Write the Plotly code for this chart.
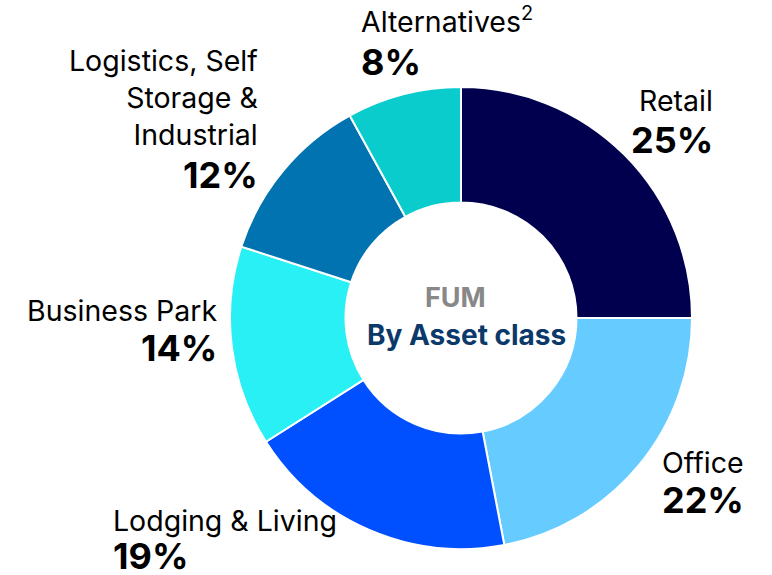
import plotly.graph_objects as go

categories = ["Retail", "Office", "Lodging & Living", "Business Park",
              "Logistics, Self Storage & Industrial", "Alternatives"]
values = [25, 22, 19, 14, 12, 8]
colors = ["#00004F", "#66CCFF", "#0050FF", "#28F0F5", "#0073B0", "#0ACCCC"]

label_texts = ["Retail", "Office", "Lodging & Living", "Business Park",
               "Logistics, Self<br>Storage &<br>Industrial", "Alternatives<sup>2</sup>"]
pct_texts = [f"{v}%" for v in values]

W, H = 772, 575
FONT = "Inter"
R = 231

fig = go.Figure(go.Pie(
    labels=categories, values=values, sort=False, direction="clockwise",
    rotation=0, hole=0.5,
    marker=dict(colors=colors, line=dict(color="white", width=2)),
    textinfo="none", hoverinfo="label+percent", showlegend=False,
    domain=dict(x=[(461 - R) / W, (461 + R) / W], y=[1 - (318 + R) / H, 1 - (318 - R) / H]),
))

# label placement (pixel coords: x, y of name block, y of pct, anchor)
layout_pos = [
    (715, 100, 140, "right"),
    (660, 462, 500, "left"),
    (111, 520, 556, "left"),
    (219, 310, 348, "right"),
    (260, 98, 175, "right"),
    (359, 20, 62, "left"),
]

annotations = []
for name, pct, (px, ny, py, anchor) in zip(label_texts, pct_texts, layout_pos):
    annotations.append(dict(x=px / W, y=1 - ny / H, xref="paper", yref="paper",
                            text=name, showarrow=False, xanchor=anchor, yanchor="middle",
                            align=anchor, font=dict(family=FONT, size=28.5, color="#000000")))
    annotations.append(dict(x=px / W, y=1 - py / H, xref="paper", yref="paper",
                            text=f"<b>{pct}</b>", showarrow=False, xanchor=anchor, yanchor="middle",
                            align=anchor, font=dict(family=FONT, size=36, color="#000000")))

annotations.append(dict(x=455 / W, y=1 - 297 / H, xref="paper", yref="paper",
                        text="<b>FUM</b>", showarrow=False, xanchor="center", yanchor="middle",
                        font=dict(family=FONT, size=27, color="#888888")))
annotations.append(dict(x=466 / W, y=1 - 335 / H, xref="paper", yref="paper",
                        text="<b>By Asset class</b>", showarrow=False, xanchor="center", yanchor="middle",
                        font=dict(family=FONT, size=28, color="#0B3A6A")))

fig.update_layout(width=W, height=H, margin=dict(l=0, r=0, t=0, b=0),
                  paper_bgcolor="white", plot_bgcolor="white",
                  annotations=annotations, font=dict(family=FONT))

fig.write_html("out.html", config={"displayModeBar": False})
with open("out.html", "r", encoding="utf-8") as f:
    html = f.read()
html = html.replace("<body>", '<body style="margin:0;overflow:hidden">', 1)
with open("out.html", "w", encoding="utf-8") as f:
    f.write(html)
